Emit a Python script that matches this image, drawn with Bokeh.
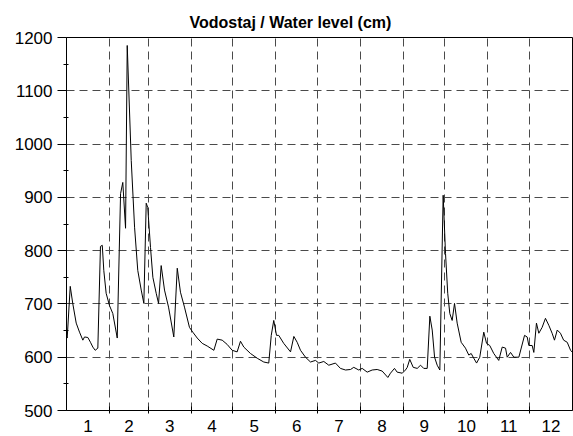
from bokeh.plotting import figure
from bokeh.models import FixedTicker, LinearAxis, Range1d, Grid
from bokeh.embed import file_html
from bokeh.resources import INLINE

# Daily water level samples (day of year, cm)
days = [0, 0.5, 2.7, 4.5, 7.0, 9.4, 11.8, 13.0, 15.4, 17.3, 19.0, 20.7, 22.6,
        24.5, 25.8, 26.9, 28.6, 31.0, 33.4, 36.6, 39.0, 40.6, 42.6, 43.8, 46.7,
        49.1, 51.4, 53.9, 55.8, 57.5, 58.6, 60.6, 62.3, 64.7, 66.4, 68.3, 70.7,
        73.6, 77.4, 79.9, 82.2, 85.1, 88.7, 91.1, 94.3, 97.9, 101.5, 106.3,
        108.7, 112.3, 115.9, 119.5, 123.1, 125.5, 127.9, 132.7, 137.6, 142.3,
        145.9, 147.7, 149.5, 151.5, 153.1, 156.7, 161.6, 164.0, 166.4, 168.8,
        172.4, 176.0, 179.6, 182.0, 185.6, 189.2, 194.0, 197.6, 201.3, 204.9,
        207.2, 210.8, 213.3, 216.9, 220.5, 224.1, 227.7, 231.8, 233.7, 236.6,
        238.5, 242.2, 244.5, 245.8, 247.6, 250.1, 253.0, 255.4, 257.7, 260.2,
        262.1, 263.8, 265.5, 267.4, 269.3, 271.7, 273.4, 275.0, 276.5, 278.2,
        279.9, 281.8, 284.7, 287.8, 290.2, 291.9, 293.8, 295.8, 298.1, 301.0,
        303.0, 305.3, 308.2, 311.8, 314.3, 316.7, 317.9, 320.3, 322.7, 326.3,
        330.4, 332.3, 333.5, 335.9, 337.1, 339.0, 340.7, 343.1, 345.5, 347.9,
        350.3, 352.0, 354.0, 356.3, 358.6, 361.2, 363.6, 365.0]
level = [640, 636, 733, 701, 664, 647, 632, 638, 637, 628, 619, 613, 617,
         808, 810, 763, 720, 697, 682, 636, 907, 928, 842, 1185, 969,
         844, 763, 726, 701, 889, 881, 806, 750, 720, 701, 772, 726,
         694, 638, 767, 722, 694, 656, 647, 636, 626, 621, 613,
         634, 632, 624, 613, 610, 630, 619, 607, 598, 591,
         589, 641, 669, 641, 641, 626, 610, 639, 628, 613,
         600, 591, 594, 589, 592, 585, 589, 579, 576, 577,
         581, 576, 579, 572, 576, 577, 574, 562, 570, 579,
         572, 570, 576, 581, 596, 581, 579, 585, 579, 579,
         677, 651, 600, 585, 576, 904, 795, 720, 682, 669,
         701, 664, 628, 617, 604, 607, 598, 589, 600, 647,
         626, 622, 607, 594, 619, 617, 600, 609, 600, 600,
         641, 638, 622, 622, 609, 664, 645, 656, 673, 660,
         645, 632, 651, 645, 632, 628, 613, 609]

month_bounds = [0, 31, 59, 90, 120, 151, 181, 212, 243, 273, 304, 334, 365]
month_labels = ["1", "2", "3", "4", "5", "6", "7", "8", "9", "10", "11", "12"]
y_ticks = [500, 600, 700, 800, 900, 1000, 1100, 1200]
y_minor = [550, 650, 750, 850, 950, 1050, 1150]

month_centers = [(month_bounds[i] + month_bounds[i + 1]) / 2 for i in range(12)]
inner_bounds = month_bounds[1:-1]

FONT = "Liberation Sans"

p = figure(width=573, height=436, output_backend="svg", toolbar_location=None,
           x_range=Range1d(0, 365), y_range=Range1d(500, 1200),
           x_axis_type=None, y_axis_type=None,
           min_border_left=66, min_border_right=1, min_border_top=37,
           min_border_bottom=26, background_fill_color="white",
           border_fill_color="white")

p.title.text = "Vodostaj / Water level (cm)"
p.title.align = "left"
p.title.offset = 123
p.title.text_font = FONT
p.title.text_font_size = "16px"
p.title.text_font_style = "bold"
p.title.text_color = "black"
p.title.standoff = 14

p.outline_line_color = "black"
p.outline_line_width = 1

# bottom axis: labels at month centres, ticks at month boundaries
xaxis = LinearAxis(ticker=FixedTicker(ticks=month_centers, minor_ticks=inner_bounds))
xaxis.major_label_overrides = {c: l for c, l in zip(month_centers, month_labels)}
xaxis.major_tick_in = 0
xaxis.major_tick_out = 0
xaxis.minor_tick_in = 4
xaxis.minor_tick_out = 3
xaxis.minor_tick_line_color = "black"
xaxis.axis_line_color = "black"
xaxis.major_label_text_font = FONT
xaxis.major_label_text_font_size = "17px"
xaxis.major_label_text_color = "black"
xaxis.major_label_standoff = 6
p.add_layout(xaxis, "below")

yaxis = LinearAxis(ticker=FixedTicker(ticks=y_ticks, minor_ticks=y_minor))
yaxis.major_tick_in = 0
yaxis.major_tick_out = 9
yaxis.minor_tick_in = 2
yaxis.minor_tick_out = 3
yaxis.major_tick_line_color = "black"
yaxis.minor_tick_line_color = "black"
yaxis.axis_line_color = "black"
yaxis.major_label_text_font = FONT
yaxis.major_label_text_font_size = "17px"
yaxis.major_label_text_color = "black"
yaxis.major_label_standoff = 5
p.add_layout(yaxis, "left")

# grid
xgrid = Grid(dimension=0, ticker=FixedTicker(ticks=inner_bounds),
             grid_line_color="#4a4a4a", grid_line_dash="8 5", grid_line_width=1)
ygrid = Grid(dimension=1, ticker=FixedTicker(ticks=y_ticks[1:-1]),
             grid_line_color="#4a4a4a", grid_line_dash="8 5", grid_line_width=1)
p.add_layout(xgrid, "center")
p.add_layout(ygrid, "center")

p.line(days, level, line_color="black", line_width=1)

open("out.html", "w").write(file_html(p, INLINE))
